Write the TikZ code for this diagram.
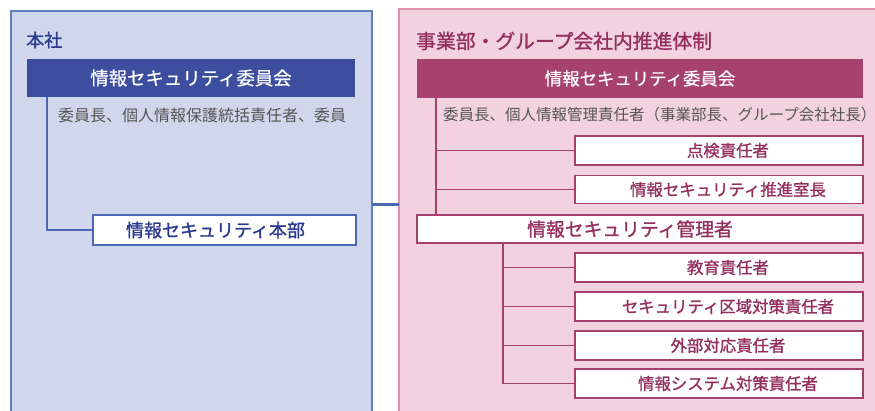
\documentclass[tikz,border=0pt]{standalone}
\usepackage{fontspec}
\setmainfont{Noto Sans CJK JP}
\newfontfamily\jp{Noto Sans CJK JP}
\newfontfamily\jpm[FakeBold=1.2]{Noto Sans CJK JP}
\newfontfamily\jpl[FakeBold=0.5]{Noto Sans CJK JP}
\definecolor{lfill}{HTML}{D0D6EC}
\definecolor{lborder}{HTML}{5B80C2}
\definecolor{lbar}{HTML}{3D4E9E}
\definecolor{ltext}{HTML}{2B3A8E}
\definecolor{lline}{HTML}{4A68B4}
\definecolor{rfill}{HTML}{F1D2DE}
\definecolor{rborder}{HTML}{E090AA}
\definecolor{rbar}{HTML}{A7426F}
\definecolor{rtext}{HTML}{93305D}
\definecolor{rline}{HTML}{A3406C}
\definecolor{subgray}{HTML}{555555}
\tikzset{
  panel/.style={line width=1.6pt},
  bar/.style={draw=none, text=white, inner sep=0pt},
  lbox/.style={draw=lline, fill=white, line width=1.3pt, text=ltext, font=\jpm\fontsize{18}{18}\selectfont, inner sep=0pt},
  rbox/.style={draw=rline, fill=white, line width=1.3pt, text=rtext, font=\jpm\fontsize{16.4}{16.4}\selectfont, inner sep=0pt},
  rbig/.style={draw=rline, fill=white, line width=1.3pt, text=rtext, font=\jpm\fontsize{18.8}{18.8}\selectfont, inner sep=0pt},
  subt/.style={text=subgray, font=\jp\fontsize{16}{16}\selectfont, inner sep=0pt, anchor=west},
  lconn/.style={draw=lline, line width=1.3pt},
  rconn/.style={draw=rline, line width=1.3pt},
}
\begin{document}
\begin{tikzpicture}[x=1pt,y=-1pt]
\useasboundingbox (0,0) rectangle (875,411);
\fill[white] (0,0) rectangle (875,411);
% panels
\fill[lfill] (11,11) rectangle (372,412);
\draw[panel, draw=lborder] (11,414) -- (11,11) -- (372,11) -- (372,414);
\fill[rfill] (399,9) rectangle (877,412);
\draw[panel, draw=rborder] (399,414) -- (399,9) -- (877,9);
% titles
\node[anchor=west, text=ltext, font=\jpm\fontsize{18}{18}\selectfont, inner sep=0pt] (ttl) at (26,40) {本社};
\node[anchor=west, text=rtext, font=\jpm\fontsize{19.8}{19.8}\selectfont, inner sep=0pt] (ttr) at (416,41) {事業部・グループ会社内推進体制};
% left
\node[bar, fill=lbar, minimum width=328pt, minimum height=38pt, font=\jpl\fontsize{18.4}{18.4}\selectfont] (lcom) at (191,78) {情報セキュリティ委員会};
\node[subt] (lsub) at (58,115) {委員長、個人情報保護統括責任者、委員};
\node[lbox, minimum width=263pt, minimum height=30pt] (lhq) at (224.5,230) {\hspace*{-18pt}情報セキュリティ本部};
\coordinate (lv) at (47,97);
\draw[lconn] (lv) |- (lhq.west);
% right
\node[bar, fill=rbar, minimum width=446pt, minimum height=39pt, font=\jpl\fontsize{17.4}{17.4}\selectfont] (rcom) at (640,78.5) {情報セキュリティ委員会};
\node[subt, font=\jp\fontsize{15.5}{15.5}\selectfont] (rsub) at (443,115) {委員長、個人情報管理責任者（事業部長、グループ会社社長）};
\node[rbox, minimum width=288pt, minimum height=29pt] (b1) at (719,150.5) {\hspace*{18pt}点検責任者};
\node[rbox, minimum width=288pt, minimum height=28pt] (b2) at (719,189.5) {\hspace*{18pt}情報セキュリティ推進室長};
\node[rbig, minimum width=446pt, minimum height=28pt] (mgr) at (640,229) {\hspace*{-20pt}情報セキュリティ管理者};
\node[rbox, minimum width=288pt, minimum height=29pt] (c1) at (719,267.5) {\hspace*{18pt}教育責任者};
\node[rbox, minimum width=288pt, minimum height=29pt] (c2) at (719,306.5) {\hspace*{18pt}セキュリティ区域対策責任者};
\node[rbox, minimum width=288pt, minimum height=29pt] (c3) at (719,345.5) {\hspace*{18pt}外部対応責任者};
\node[rbox, minimum width=288pt, minimum height=29pt] (c4) at (719,383.5) {\hspace*{18pt}情報システム対策責任者};
\coordinate (rv) at (436,98);
\draw[rconn] (rv) -- (rv |- mgr.north);
\draw[rconn] (rv |- b1.west) -- (b1.west);
\draw[rconn] (rv |- b2.west) -- (b2.west);
\coordinate (mv) at (503,243);
\draw[rconn] (mv) -- (mv |- c4.west) -- (c4.west);
\draw[rconn] (mv |- c1.west) -- (c1.west);
\draw[rconn] (mv |- c2.west) -- (c2.west);
\draw[rconn] (mv |- c3.west) -- (c3.west);
% link between panels
\coordinate (lk1) at (372,205);
\coordinate (lk2) at (399,205);
\draw[draw=lline, line width=3pt] (lk1) -- (lk2);
\end{tikzpicture}
\end{document}
